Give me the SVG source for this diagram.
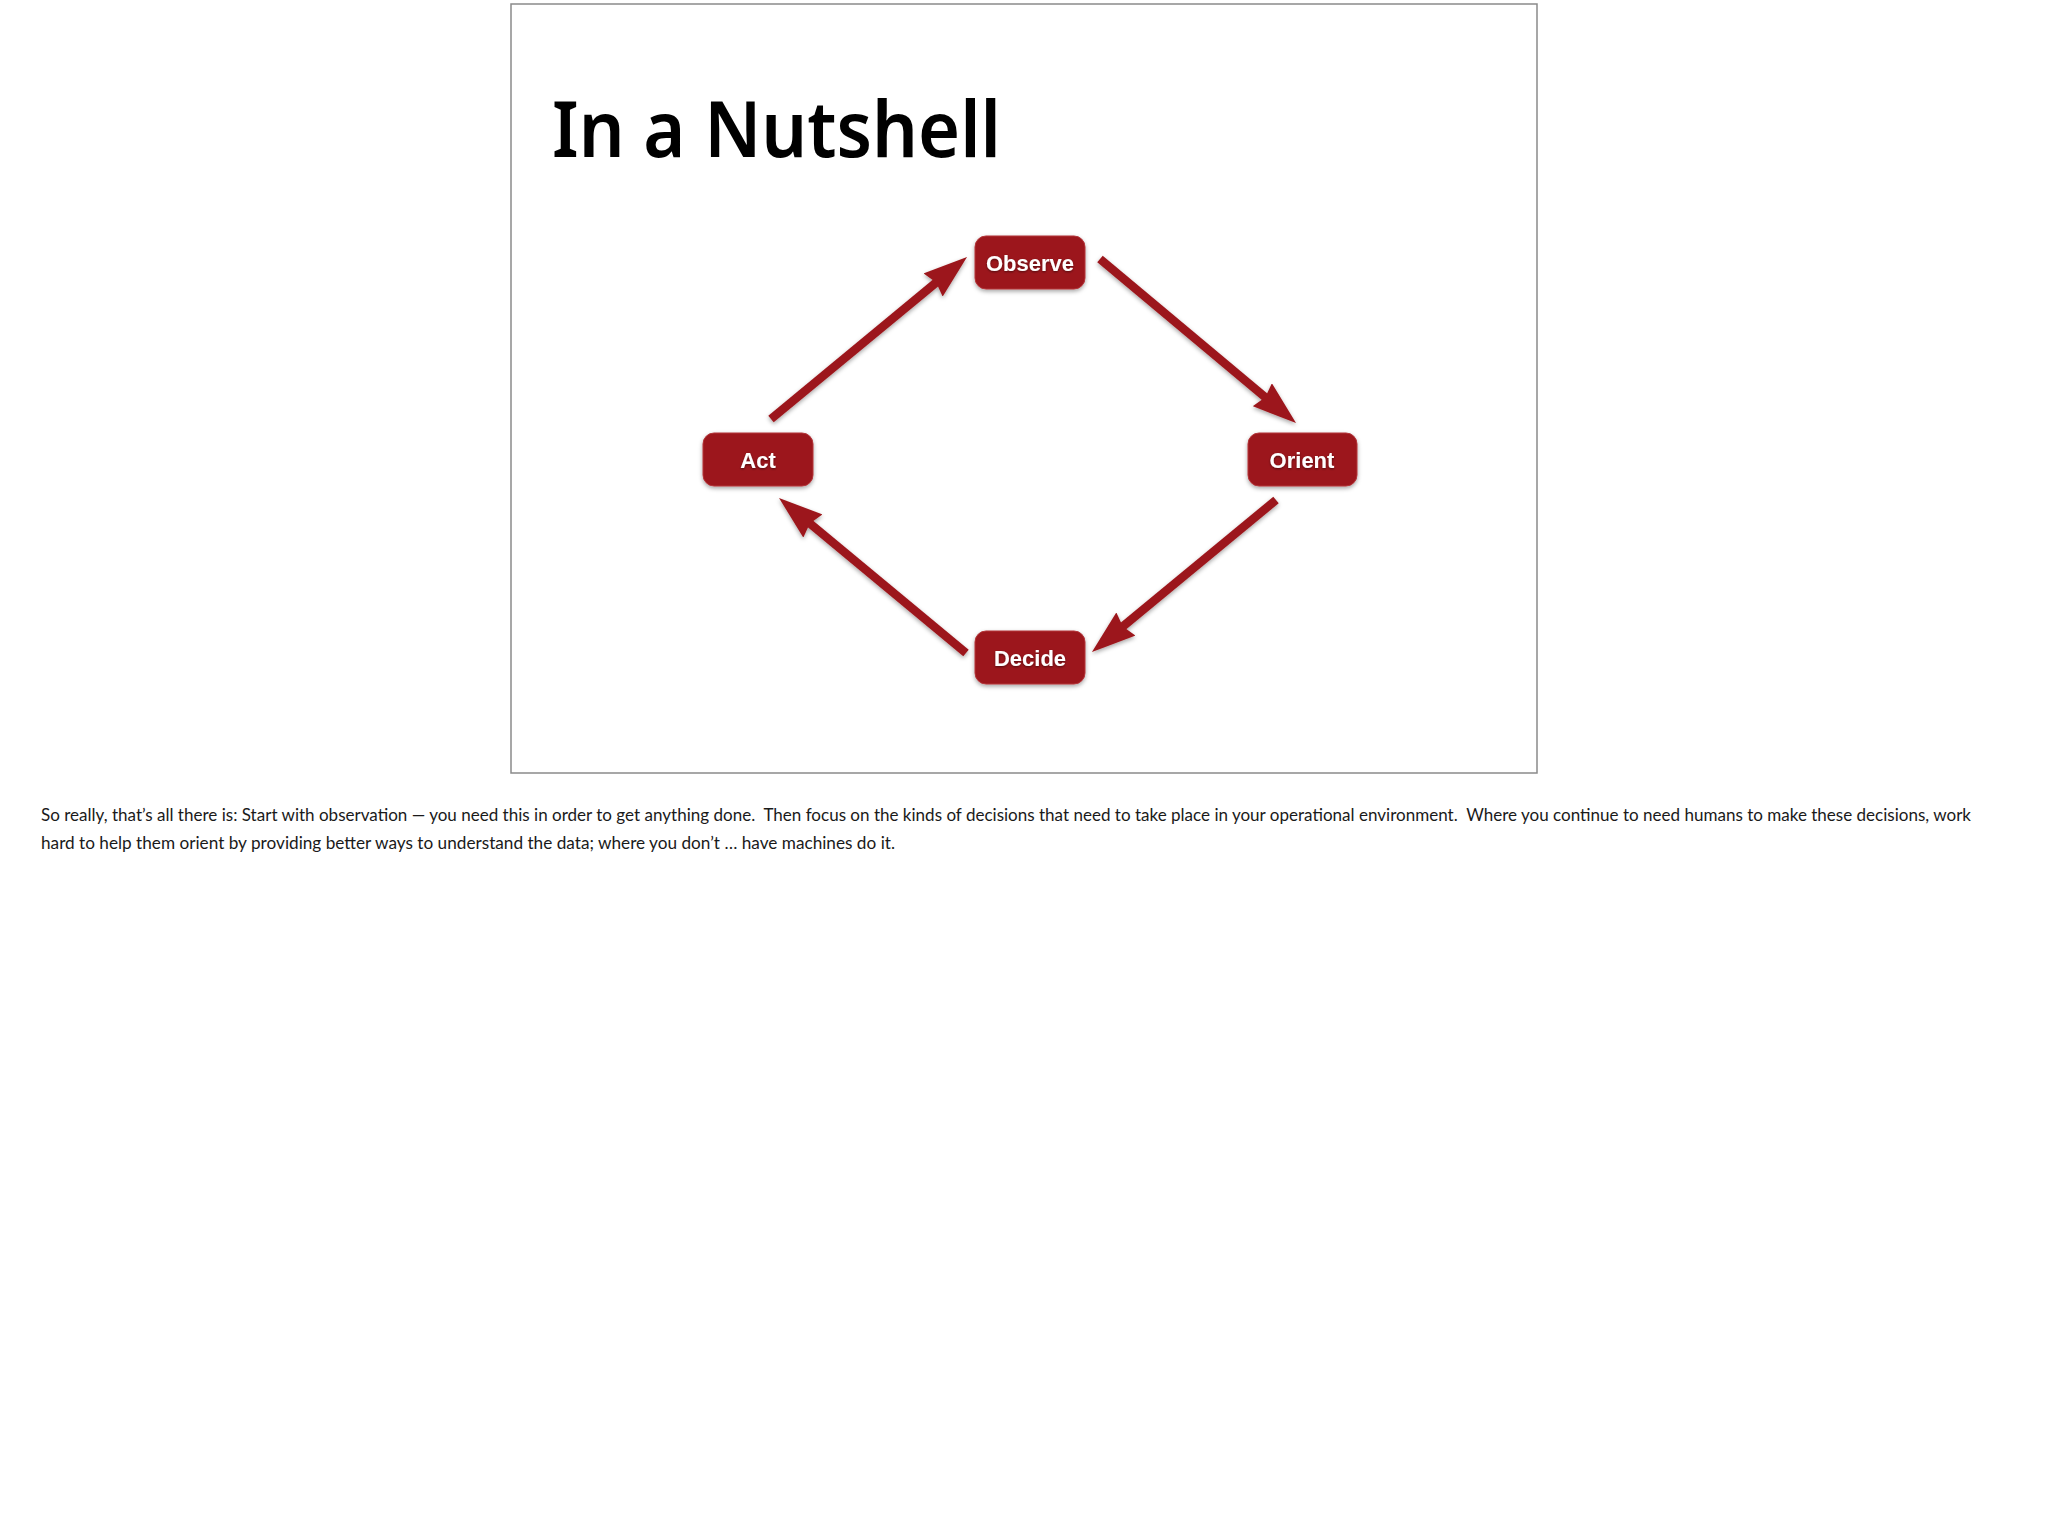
<svg xmlns="http://www.w3.org/2000/svg" width="2048" height="1527" viewBox="0 0 2048 1527">
<defs>
<style>
.slide{fill:#ffffff;stroke:#8a8a8a;stroke-width:1.5}
.title{font-family:"Noto Sans","Open Sans","Liberation Sans",sans-serif;font-weight:600;font-size:77px;fill:#000}
.box{fill:#9c161b;stroke:#b3353a;stroke-width:1}
.lbl{font-family:"Liberation Sans",Arial,sans-serif;font-weight:bold;font-size:22px;fill:#ffffff;text-anchor:middle}
.conn{stroke:#9c161b;stroke-width:8.5;fill:none}
.note{font-family:"Lato","Noto Sans","Liberation Sans",sans-serif;font-size:16.5px;fill:#1a1a1a}
</style>
<filter id="sh" x="-20%" y="-20%" width="140%" height="150%">
<feDropShadow dx="0" dy="2" stdDeviation="2" flood-color="#000" flood-opacity="0.35"/>
</filter>
<filter id="tsh" x="-10%" y="-20%" width="120%" height="150%">
<feDropShadow dx="0" dy="1" stdDeviation="0.8" flood-color="#000" flood-opacity="0.5"/>
</filter>
<marker id="ah" markerUnits="userSpaceOnUse" viewBox="0 0 44 30" markerWidth="44" markerHeight="30" refX="14" refY="15" orient="auto">
<path d="M0,0 L44,15 L0,30 L4,15 Z" fill="#9c161b"/>
</marker>
</defs>
<rect x="0" y="0" width="2048" height="1527" fill="#ffffff"/>
<rect class="slide" x="511" y="4" width="1026" height="769"/>
<text class="title" x="552" y="157" textLength="449" lengthAdjust="spacingAndGlyphs">In a Nutshell</text>
<g id="connectors" filter="url(#sh)">
<line class="conn" x1="771" y1="419" x2="943.9" y2="276.1" marker-end="url(#ah)"/>
<line class="conn" x1="1100" y1="259" x2="1273" y2="403.7" marker-end="url(#ah)"/>
<line class="conn" x1="1276" y1="500" x2="1115.1" y2="632.9" marker-end="url(#ah)"/>
<line class="conn" x1="966" y1="653" x2="802.1" y2="517.1" marker-end="url(#ah)"/>
</g>
<g id="observe">
<rect class="box" x="975" y="236" width="110" height="53" rx="11" filter="url(#sh)"/>
<text class="lbl" x="1030" y="271" filter="url(#tsh)">Observe</text>
</g>
<g id="orient">
<rect class="box" x="1248" y="433" width="109" height="53" rx="11" filter="url(#sh)"/>
<text class="lbl" x="1302" y="468" filter="url(#tsh)">Orient</text>
</g>
<g id="decide">
<rect class="box" x="975" y="631" width="110" height="53" rx="11" filter="url(#sh)"/>
<text class="lbl" x="1030" y="666" filter="url(#tsh)">Decide</text>
</g>
<g id="act">
<rect class="box" x="703" y="433" width="110" height="53" rx="11" filter="url(#sh)"/>
<text class="lbl" x="758" y="468" filter="url(#tsh)">Act</text>
</g>
<text class="note" xml:space="preserve" x="41" y="821" textLength="1930" lengthAdjust="spacingAndGlyphs">So really, that’s all there is: Start with observation — you need this in order to get anything done.  Then focus on the kinds of decisions that need to take place in your operational environment.  Where you continue to need humans to make these decisions, work</text>
<text class="note" x="41" y="849" textLength="854" lengthAdjust="spacingAndGlyphs">hard to help them orient by providing better ways to understand the data; where you don’t … have machines do it.</text>
</svg>
